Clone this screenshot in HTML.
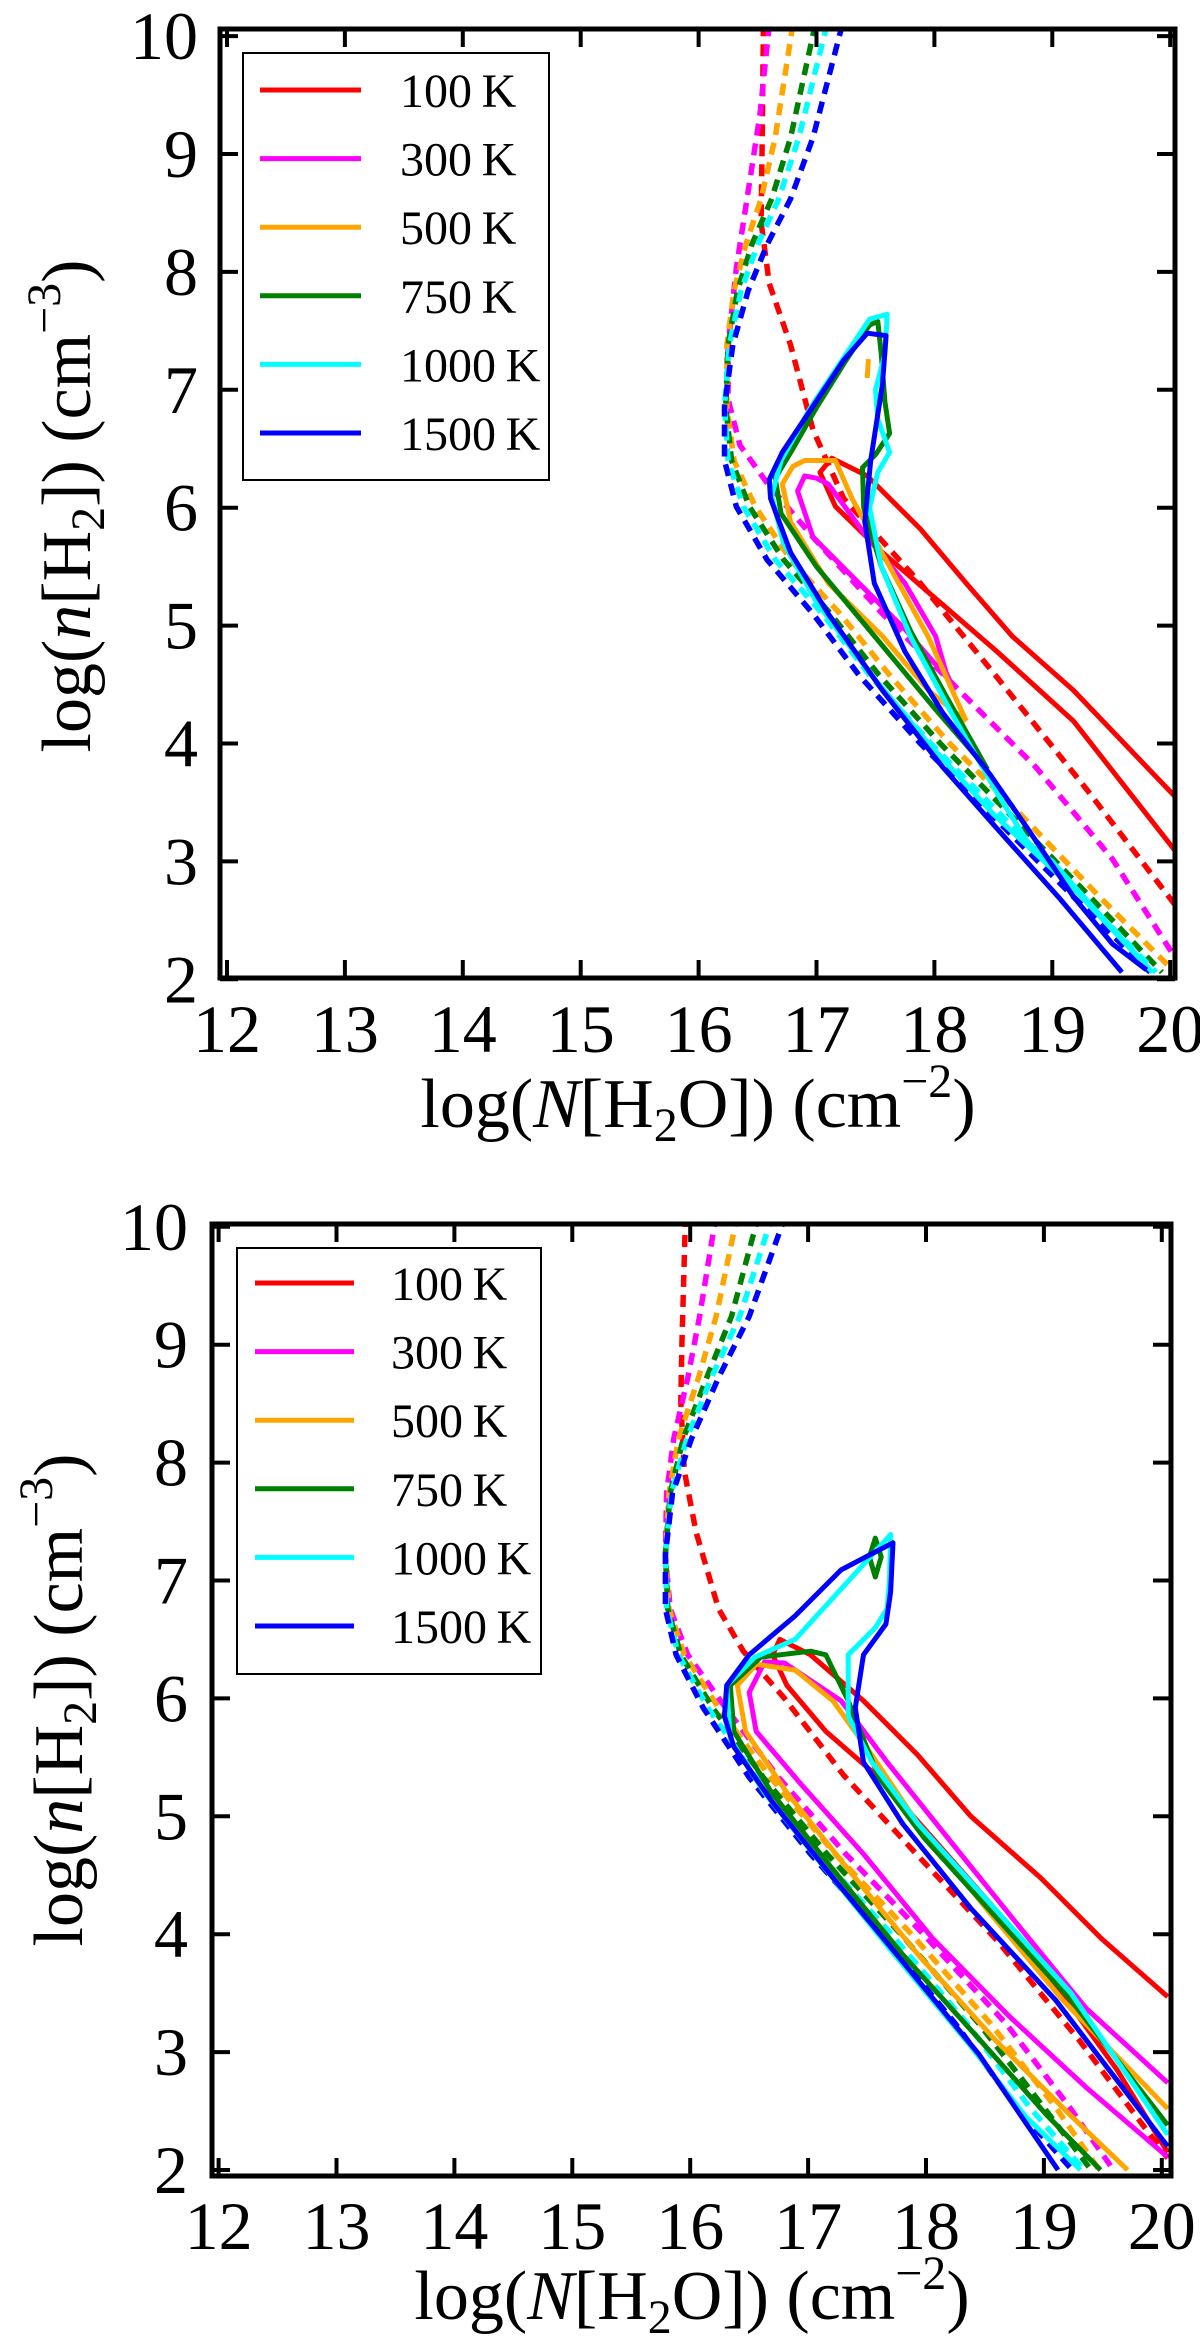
<!DOCTYPE html>
<html><head><meta charset="utf-8"><style>
html,body{margin:0;padding:0;background:#fff;}
svg{display:block;font-family:"Liberation Serif","DejaVu Serif",serif;}
</style></head><body>
<svg id="fig" width="1200" height="2346" viewBox="0 0 1200 2346" xmlns="http://www.w3.org/2000/svg">
<defs>
<clipPath id="clipTop"><rect x="220" y="29" width="955" height="949"/></clipPath>
<clipPath id="clipBot"><rect x="212" y="1224" width="959" height="952"/></clipPath>
</defs>
<g id="topPanel">
  <g id="topCurves" clip-path="url(#clipTop)"></g>
  <g id="topTicks"></g>
  <rect x="220" y="29" width="955" height="949" fill="none" stroke="#000" stroke-width="5"/>
  <text x="698" y="1127" font-size="70" text-anchor="middle">log(<tspan font-style="italic">N</tspan>[H<tspan font-size="48" dy="14">2</tspan><tspan dy="-14">O]) (cm</tspan><tspan font-size="48" dy="-30">−2</tspan><tspan dy="30">)</tspan></text>
  <text transform="translate(90,506) rotate(-90)" font-size="70" text-anchor="middle">log(<tspan font-style="italic">n</tspan>[H<tspan font-size="48" dy="14">2</tspan><tspan dy="-14">]) (cm</tspan><tspan font-size="48" dy="-30">−3</tspan><tspan dy="30">)</tspan></text>
  <g>
    <rect x="243" y="53" width="306" height="427" fill="#fff" stroke="#000" stroke-width="2"/>
    <g id="topLegendItems"></g>
  </g>
</g>
<g id="botPanel">
  <g id="botCurves" clip-path="url(#clipBot)"></g>
  <g id="botTicks"></g>
  <rect x="212" y="1224" width="959" height="952" fill="none" stroke="#000" stroke-width="5"/>
  <text x="692" y="2319" font-size="70" text-anchor="middle">log(<tspan font-style="italic">N</tspan>[H<tspan font-size="48" dy="14">2</tspan><tspan dy="-14">O]) (cm</tspan><tspan font-size="48" dy="-30">−2</tspan><tspan dy="30">)</tspan></text>
  <text transform="translate(82,1700) rotate(-90)" font-size="70" text-anchor="middle">log(<tspan font-style="italic">n</tspan>[H<tspan font-size="48" dy="14">2</tspan><tspan dy="-14">]) (cm</tspan><tspan font-size="48" dy="-30">−3</tspan><tspan dy="30">)</tspan></text>
  <g>
    <rect x="237" y="1248" width="304" height="426" fill="#fff" stroke="#000" stroke-width="2"/>
    <g id="botLegendItems"></g>
  </g>
</g>
</svg>
<script>
const xTicks = [12,13,14,15,16,17,18,19,20];
const yTicks = [2,3,4,5,6,7,8,9,10];
const legendLabels = ["100\u2009K","300\u2009K","500\u2009K","750\u2009K","1000\u2009K","1500\u2009K"];
const seriesColors = ["#ff0000","#ff00ff","#ffa500","#008000","#00ffff","#0000ff"];

// ---- top panel data (log N, log n) ----
const topRedDash = [[16.55,10.1],[16.54,9.2],[16.53,8.42],[16.6,7.9],[16.78,7.38],[16.97,6.66],[17.23,6.08],[17.88,5.36],[18.5,4.6],[19.3,3.6],[20.05,2.62]];
const topRedSolid = [[20.05,3.08],[19.18,4.19],[18.53,4.78],[18.01,5.23],[17.56,5.62],[17.16,6.01],[17.03,6.3],[17.13,6.42],[17.43,6.27],[17.88,5.82],[18.27,5.36],[18.66,4.91],[19.18,4.45],[20.05,3.54]];
const topMagDash = [[16.6,10.1],[16.52,9.33],[16.42,8.68],[16.32,8.03],[16.25,7.38],[16.25,6.92],[16.35,6.53],[16.58,6.21],[16.97,5.75],[17.56,5.1],[18.21,4.45],[18.86,3.8],[19.51,3.02],[20.05,2.17]];
const topMagSolid = [[18.17,4.45],[18.14,4.52],[17.75,4.97],[17.36,5.36],[16.97,5.75],[16.84,6.14],[16.9,6.27],[17.0,6.25],[17.1,6.2],[17.43,5.75],[17.75,5.36],[18.01,4.91],[18.1,4.6],[18.17,4.45]];
const topOrgDash = [[16.8,10.1],[16.65,9.14],[16.53,8.62],[16.4,8.23],[16.3,7.84],[16.24,7.38],[16.24,6.86],[16.3,6.4],[16.48,6.01],[16.78,5.56],[17.2,5.1],[17.62,4.58],[18.13,4.0],[18.72,3.41],[19.4,2.7],[20.0,2.1]];
const topOrgSolid = [[18.27,4.19],[17.95,4.45],[17.56,4.91],[17.1,5.36],[16.78,5.88],[16.71,6.2],[16.8,6.35],[16.9,6.4],[17.16,6.4],[17.3,6.08],[17.62,5.5],[17.95,4.9],[18.21,4.32],[18.27,4.19]];
const topOrgBlip = [[17.43,7.1],[17.44,7.26]];
const topGrnDash = [[16.99,10.1],[16.78,9.14],[16.62,8.62],[16.45,8.23],[16.33,7.84],[16.25,7.38],[16.23,6.86],[16.28,6.4],[16.43,6.01],[16.72,5.56],[17.12,5.1],[17.53,4.58],[18.05,4.0],[18.63,3.41],[19.32,2.7],[19.93,2.06]];
const topGrnSolid = [[18.45,3.78],[18.0,4.3],[17.5,4.9],[17.0,5.5],[16.7,5.95],[16.65,6.25],[16.8,6.5],[17.0,6.85],[17.25,7.25],[17.45,7.55],[17.52,7.58],[17.55,7.3],[17.58,6.9],[17.62,6.63],[17.5,6.45],[17.39,6.34],[17.4,6.0],[17.55,5.5],[17.8,4.95],[18.1,4.4],[18.45,3.78]];
const topCynDash = [[17.09,10.1],[16.85,9.14],[16.68,8.62],[16.5,8.23],[16.36,7.84],[16.26,7.38],[16.22,6.86],[16.25,6.4],[16.38,6.01],[16.65,5.56],[17.05,5.1],[17.45,4.58],[17.97,4.0],[18.55,3.41],[19.25,2.7],[19.88,2.06]];
const topCynSolid = [[19.85,2.06],[19.2,2.75],[18.5,3.4],[17.95,4.0],[17.45,4.6],[17.0,5.2],[16.72,5.7],[16.62,6.1],[16.7,6.4],[16.95,6.85],[17.25,7.3],[17.45,7.6],[17.6,7.64],[17.58,7.3],[17.5,7.0],[17.52,6.75],[17.62,6.47],[17.52,6.3],[17.45,6.0],[17.55,5.5],[17.8,4.9],[18.15,4.25],[18.55,3.55],[18.8,3.15],[19.0,3.0],[19.4,2.55],[19.85,2.06]];
const topBluDash = [[17.22,10.1],[16.97,9.14],[16.78,8.62],[16.58,8.23],[16.42,7.84],[16.29,7.38],[16.22,6.86],[16.22,6.4],[16.32,6.01],[16.58,5.56],[16.97,5.1],[17.36,4.58],[17.88,4.0],[18.47,3.41],[19.18,2.7],[19.83,2.06]];
const topBluSolid = [[19.59,2.06],[19.05,2.7],[18.53,3.28],[18.07,3.8],[17.56,4.45],[17.1,5.1],[16.78,5.62],[16.61,6.08],[16.6,6.24],[16.71,6.47],[16.97,6.86],[17.23,7.25],[17.43,7.48],[17.59,7.46],[17.56,7.05],[17.46,6.4],[17.41,5.88],[17.49,5.36],[17.75,4.78],[18.07,4.26],[18.47,3.74],[18.79,3.28],[19.18,2.7],[19.51,2.3],[19.8,2.08]];

// ---- bottom panel data ----
const botRedDash = [[15.96,10.1],[15.93,9.0],[15.92,8.52],[15.95,7.93],[16.05,7.41],[16.24,6.76],[16.45,6.4],[16.8,6.0],[17.3,5.35],[17.9,4.7],[18.6,3.95],[19.3,3.1],[20.05,2.1]];
const botRedSolid = [[20.05,3.47],[19.49,3.96],[18.97,4.48],[18.38,5.0],[17.93,5.52],[17.47,5.98],[17.02,6.37],[16.76,6.5],[16.7,6.37],[16.82,6.11],[17.15,5.72],[17.6,5.33],[18.06,4.81],[18.58,4.22],[19.1,3.57],[19.62,2.85],[20.05,2.15]];
const botMagDash = [[16.22,10.1],[16.08,9.24],[15.98,8.72],[15.86,8.2],[15.8,7.74],[15.79,7.22],[15.83,6.76],[15.98,6.37],[16.3,5.92],[16.75,5.33],[17.32,4.68],[17.95,4.03],[18.68,3.24],[19.22,2.53],[19.59,2.0]];
const botMagSolid = [[20.05,2.11],[19.36,2.7],[18.71,3.3],[18.06,3.96],[17.47,4.68],[16.95,5.26],[16.56,5.72],[16.5,6.05],[16.63,6.31],[16.8,6.3],[17.28,5.98],[17.67,5.46],[18.19,4.81],[18.77,4.09],[19.36,3.37],[20.05,2.74]];
const botOrgDash = [[16.4,10.1],[16.22,9.24],[16.07,8.72],[15.9,8.2],[15.82,7.74],[15.79,7.22],[15.82,6.76],[15.95,6.37],[16.24,5.92],[16.68,5.33],[17.23,4.68],[17.85,4.03],[18.55,3.24],[19.1,2.53],[19.47,2.0]];
const botOrgSolid = [[19.71,2.0],[19.23,2.46],[18.58,3.11],[17.93,3.83],[17.34,4.55],[16.82,5.2],[16.47,5.72],[16.4,6.11],[16.56,6.29],[16.89,6.24],[17.21,5.98],[17.54,5.52],[17.93,4.94],[18.51,4.22],[19.16,3.44],[20.05,2.52]];
const botGrnDash = [[16.58,10.1],[16.35,9.24],[16.14,8.72],[15.94,8.2],[15.83,7.74],[15.79,7.22],[15.81,6.76],[15.92,6.37],[16.19,5.92],[16.62,5.33],[17.16,4.68],[17.76,4.03],[18.45,3.24],[19.0,2.53],[19.4,2.0]];
const botGrnSolid = [[19.48,2.0],[19.03,2.46],[18.45,3.11],[17.8,3.83],[17.21,4.55],[16.69,5.2],[16.37,5.72],[16.34,6.11],[16.6,6.35],[17.02,6.4],[17.15,6.37],[17.34,5.98],[17.6,5.33],[17.99,4.81],[18.58,4.16],[19.23,3.44],[20.05,2.38]];
const botGrnBlip = [[17.52,7.2],[17.57,7.36],[17.62,7.2],[17.57,7.03],[17.52,7.2]];
const botCynDash = [[16.7,10.1],[16.42,9.24],[16.18,8.72],[15.97,8.2],[15.84,7.74],[15.79,7.22],[15.8,6.76],[15.9,6.37],[16.15,5.92],[16.56,5.33],[17.09,4.68],[17.68,4.03],[18.35,3.24],[18.88,2.53],[19.34,2.0]];
const botCynSolid = [[19.31,2.0],[18.84,2.46],[18.38,3.05],[17.73,3.83],[17.15,4.55],[16.63,5.2],[16.34,5.65],[16.31,6.11],[16.55,6.35],[16.89,6.5],[17.3,6.95],[17.7,7.39],[17.69,7.0],[17.67,6.76],[17.57,6.6],[17.34,6.37],[17.34,5.85],[17.54,5.46],[17.93,4.94],[18.58,4.22],[19.23,3.5],[20.05,2.3]];
const botBluDash = [[16.81,10.1],[16.5,9.24],[16.24,8.72],[16.01,8.2],[15.85,7.74],[15.79,7.22],[15.79,6.76],[15.88,6.37],[16.11,5.92],[16.5,5.33],[17.02,4.68],[17.6,4.03],[18.25,3.24],[18.77,2.53],[19.24,2.0]];
const botBluSolid = [[19.12,2.0],[18.45,2.98],[17.8,3.77],[17.21,4.48],[16.69,5.13],[16.37,5.59],[16.29,5.85],[16.31,6.11],[16.5,6.37],[16.89,6.7],[17.28,7.09],[17.72,7.32],[17.7,6.9],[17.66,6.63],[17.47,6.37],[17.4,5.92],[17.47,5.46],[17.8,4.94],[18.38,4.22],[19.1,3.44],[20.05,2.2]];

const topSeries = [
  ["red",topRedDash,[topRedSolid]],["magenta",topMagDash,[topMagSolid]],
  ["orange",topOrgDash,[topOrgSolid,topOrgBlip]],["green",topGrnDash,[topGrnSolid]],
  ["cyan",topCynDash,[topCynSolid]],["blue",topBluDash,[topBluSolid]]];
const botSeries = [
  ["red",botRedDash,[botRedSolid]],["magenta",botMagDash,[botMagSolid]],
  ["orange",botOrgDash,[botOrgSolid]],["green",botGrnDash,[botGrnSolid,botGrnBlip]],
  ["cyan",botCynDash,[botCynSolid]],["blue",botBluDash,[botBluSolid]]];

const NS = "http://www.w3.org/2000/svg";
const U = 117.9;
const topAx = {x0:227, y2:979.3, L:220, R:1175, T:29, B:978, xlab:1052, yRight:198};
const botAx = {x0:218.6, y2:2170, L:212, R:1171, T:1224, B:2176, xlab:2249, yRight:188};
function sx(ax,v){return ax.x0+(v-12)*U;}
function sy(ax,v){return ax.y2-(v-2)*U;}

function mk(tag, attrs){const e=document.createElementNS(NS,tag);for(const k in attrs)e.setAttribute(k,attrs[k]);return e;}

function drawAxes(ax, gid){
  const g=document.getElementById(gid);
  xTicks.forEach(v=>{
    const x=sx(ax,v);
    const t1=mk("line",{x1:x,y1:ax.B,x2:x,y2:ax.B-18,stroke:"#000","stroke-width":4});
    
    
    g.appendChild(t1);
    const t2=mk("line",{x1:x,y1:ax.T,x2:x,y2:ax.T+18,stroke:"#000","stroke-width":4});
    
    
    g.appendChild(t2);
    const lb=mk("text",{x:x,y:ax.xlab,"font-size":68,"text-anchor":"middle"});
    lb.textContent=String(v);
    
    
    g.appendChild(lb);
  });
  yTicks.forEach(v=>{
    const y=sy(ax,v);
    const t1=mk("line",{x1:ax.L,y1:y,x2:ax.L+18,y2:y,stroke:"#000","stroke-width":4});
    
    
    g.appendChild(t1);
    const t2=mk("line",{x1:ax.R,y1:y,x2:ax.R-18,y2:y,stroke:"#000","stroke-width":4});
    
    
    g.appendChild(t2);
    const lb=mk("text",{x:ax.yRight,y:y+23,"font-size":68,"text-anchor":"end"});
    lb.textContent=String(v);
    
    
    g.appendChild(lb);
  });
}

function pathOf(ax, pts){return pts.map((p,i)=>(i?"L":"M")+sx(ax,p[0]).toFixed(1)+" "+sy(ax,p[1]).toFixed(1)).join(" ");}

function drawSeries(ax, gid, series){
  const g=document.getElementById(gid);
  series.forEach((s,i)=>{
    const col=seriesColors[i];
    const d=mk("path",{d:pathOf(ax,s[1]),fill:"none",stroke:col,"stroke-width":5.5,"stroke-dasharray":"12 8"});
    
    
    g.appendChild(d);
  });
  series.forEach((s,i)=>{
    const col=seriesColors[i];
    s[2].forEach(arr=>{
      const p=mk("path",{d:pathOf(ax,arr),fill:"none",stroke:col,"stroke-width":5,"stroke-linejoin":"round"});
      
      
      g.appendChild(p);
    });
  });
}

function drawLegend(gid, x1, x2, tx, y0, step){
  const g=document.getElementById(gid);
  legendLabels.forEach((lab,i)=>{
    const y=y0+i*step;
    const ln=mk("line",{x1:x1,y1:y,x2:x2,y2:y,stroke:seriesColors[i],"stroke-width":5});
    
    
    g.appendChild(ln);
    const t=mk("text",{x:tx,y:y+17,"font-size":48});
    t.textContent=lab;
    
    
    g.appendChild(t);
  });
}

drawSeries(topAx,"topCurves",topSeries);
drawSeries(botAx,"botCurves",botSeries);
drawAxes(topAx,"topTicks");
drawAxes(botAx,"botTicks");
drawLegend("topLegendItems",260,361,400,90,68.6);
drawLegend("botLegendItems",255,354,391,1283,68.6);
</script>
</body></html>
